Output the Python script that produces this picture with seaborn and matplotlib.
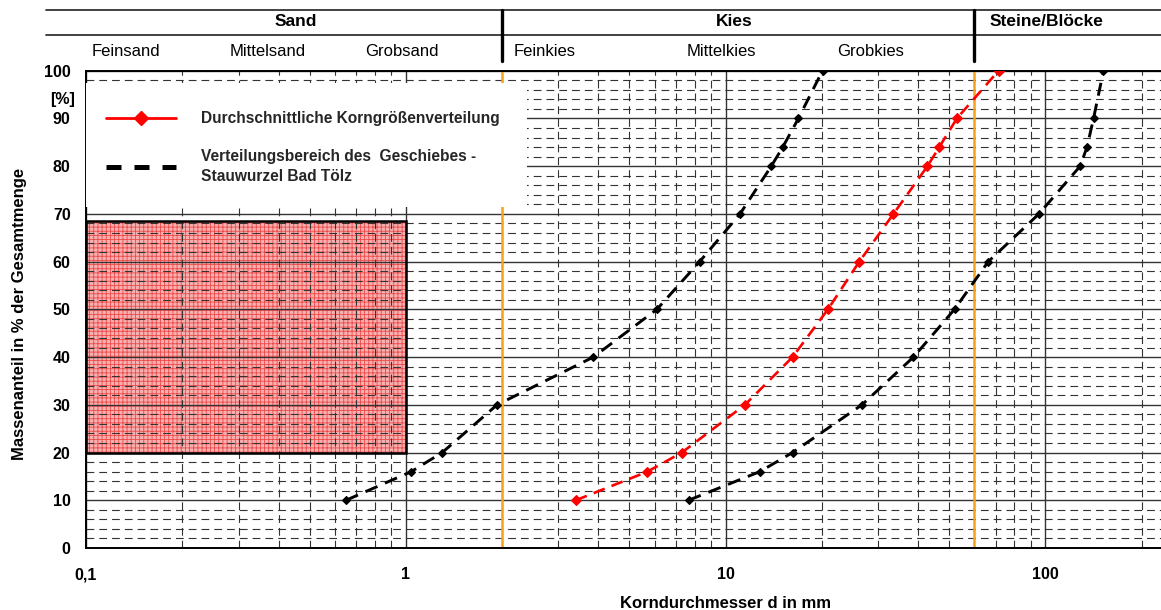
import numpy as np
import pandas as pd
import matplotlib
matplotlib.use("Agg")
import matplotlib.pyplot as plt
import seaborn as sns
from matplotlib.lines import Line2D
from matplotlib.patches import Rectangle
from matplotlib.ticker import FixedLocator, FixedFormatter, LogLocator, MultipleLocator, NullFormatter

# ---------------- data ----------------
percent = [10, 16, 20, 30, 40, 50, 60, 70, 80, 84, 90, 100]
fine_limit_d = [0.65, 1.04, 1.30, 1.93, 3.86, 6.1, 8.3, 11.1, 13.9, 15.1, 16.9, 20.1]
mean_d = [3.4, 5.7, 7.3, 11.5, 16.2, 20.9, 26.2, 33.5, 42.8, 46.6, 52.9, 71.4]
coarse_limit_d = [7.66, 12.8, 16.2, 26.7, 38.7, 52.0, 66.3, 95.5, 128.5, 135.0, 141.5, 152.0]

y_ticks = [0, 10, 20, 30, 40, 50, 60, 70, 80, 90, 100]
x_ticks = [0.1, 1, 10, 100]
x_tick_labels = ["0,1", "1", "10", "100"]
class_bounds = [2, 60]
sand_box = (0.1, 1.0, 20, 68.5)

header_main = ["Sand", "Kies", "Steine/Blöcke"]
header_sub = ["Feinsand", "Mittelsand", "Grobsand", "Feinkies", "Mittelkies", "Grobkies"]
legend_labels = ["Durchschnittliche Korngrößenverteilung",
                 "Verteilungsbereich des  Geschiebes -\nStauwurzel Bad Tölz"]

# ---------------- style ----------------
sns.set_theme(style="white")
plt.rcParams["font.family"] = ["Liberation Sans", "DejaVu Sans"]
plt.rcParams["hatch.linewidth"] = 0.6

W, H = 1161, 610
fig = plt.figure(figsize=(W / 100, H / 100), dpi=100)
ax_left, ax_right, ax_bottom, ax_top = 86, 1161, 548, 70.7
ax = fig.add_axes([ax_left / W, 1 - ax_bottom / H, (ax_right - ax_left) / W, (ax_bottom - ax_top) / H])

ax.set_xscale("log")
ax.set_xlim(0.1, 230)
ax.set_ylim(0, 100)

# grid
ax.xaxis.set_major_locator(FixedLocator(x_ticks))
ax.xaxis.set_major_formatter(FixedFormatter(x_tick_labels))
ax.xaxis.set_minor_locator(LogLocator(base=10, subs=np.arange(2, 10)))
ax.xaxis.set_minor_formatter(NullFormatter())
ax.yaxis.set_major_locator(FixedLocator(y_ticks))
ax.yaxis.set_minor_locator(MultipleLocator(2))
ax.set_axisbelow(True)
ax.grid(which="major", color="#333333", lw=1.0, ls="-")
ax.grid(which="minor", color="#333333", lw=0.8, ls=(0, (7, 4.5)))

# shaded sand box
x0, x1, y0, y1 = sand_box
ax.add_patch(Rectangle((x0, y0), x1 - x0, y1 - y0, facecolor="#f6b0b0", edgecolor="#ec4a4a",
                       hatch="++++", lw=0, zorder=0.2))
ax.add_patch(Rectangle((x0, y0), x1 - x0, y1 - y0, facecolor="none", edgecolor="black",
                       lw=1.8, zorder=2))

# class boundaries
for b in class_bounds:
    ax.axvline(b, color="#f7a21b", lw=1.8, zorder=2)

# white legend box
ax.add_patch(Rectangle((0.1, 71.5), 2.4 - 0.1, 26.0, facecolor="white", edgecolor="none", zorder=3))

# curves
dash = (0, (4.5, 2.8))
sns.lineplot(x=fine_limit_d, y=percent, ax=ax, color="black", lw=2.1, linestyle=dash,
             marker="D", markersize=3.6, markeredgewidth=0.8, markeredgecolor="black",
             estimator=None, sort=False, zorder=4)
sns.lineplot(x=coarse_limit_d, y=percent, ax=ax, color="black", lw=2.1, linestyle=dash,
             marker="D", markersize=3.6, markeredgewidth=0.8, markeredgecolor="black",
             estimator=None, sort=False, zorder=4)
sns.lineplot(x=mean_d, y=percent, ax=ax, color="red", lw=1.9, linestyle=dash,
             marker="D", markersize=5.0, markeredgewidth=0.8, markeredgecolor="red",
             estimator=None, sort=False, zorder=4)

# ticks / spines
for s in ["left", "bottom", "top"]:
    ax.spines[s].set_visible(True)
    ax.spines[s].set_color("black")
    ax.spines[s].set_linewidth(1.4)
ax.spines["right"].set_visible(False)
ax.tick_params(axis="both", which="major", length=0, labelsize=11.5)
ax.tick_params(axis="y", which="major", pad=11)
ax.tick_params(axis="x", which="major", pad=14)
ax.tick_params(axis="both", which="minor", length=0)
for lab in ax.get_xticklabels() + ax.get_yticklabels():
    lab.set_fontweight("bold")
    lab.set_color("black")
ax.text(-11 / (ax_right - ax_left), 94, "[%]", transform=ax.get_yaxis_transform(),
        ha="right", va="center", fontsize=11.5, fontweight="bold", color="black")

ax.set_xlabel("")
ax.set_ylabel("")
fig.text(20 / W, 1 - 314 / H, "Massenanteil in % der Gesamtmenge", rotation=90,
         ha="center", va="center", fontsize=12, fontweight="bold", color="black")
fig.text(726 / W, 1 - 603 / H, "Korndurchmesser d in mm", ha="center", va="center",
         fontsize=12, fontweight="bold", color="black")

# legend
handles = [Line2D([], [], color="red", lw=2.0, marker="D", markersize=7.5, markeredgecolor="red"),
           Line2D([], [], color="black", lw=3.6, ls=(0, (3, 2.6)))]
leg = ax.legend(handles, legend_labels, loc="upper left",
                bbox_to_anchor=(106 / W, 1 - 111 / H), bbox_transform=fig.transFigure,
                frameon=False, prop={"weight": "bold", "size": 11.2},
                handlelength=4.5, handletextpad=1.6, labelspacing=1.45, borderpad=0,
                borderaxespad=0)
for t in leg.get_texts():
    t.set_linespacing(1.45)
leg.set_zorder(5)

# header table
def hline(y, xa, xb, lw=1.3):
    fig.add_artist(Line2D([xa / W, xb / W], [1 - y / H, 1 - y / H], color="#333333", lw=lw))

def vline(x, ya, yb, lw=2.4):
    fig.add_artist(Line2D([x / W, x / W], [1 - ya / H, 1 - yb / H], color="black", lw=lw))

hline(10, 46, 1161)
hline(35, 46, 1161)
vline(502, 10, 61)
vline(974, 10, 61)

main_x = [296, 734, 1046]
for t, x in zip(header_main, main_x):
    fig.text(x / W, 1 - 22 / H, t, ha="center", va="center", fontsize=12.5,
             fontweight="bold", color="black")
sub_x = [126, 268, 402, 545, 721, 871]
for t, x in zip(header_sub, sub_x):
    fig.text(x / W, 1 - 52 / H, t, ha="center", va="center", fontsize=12, color="black")

fig.savefig("out.png", dpi=100)
